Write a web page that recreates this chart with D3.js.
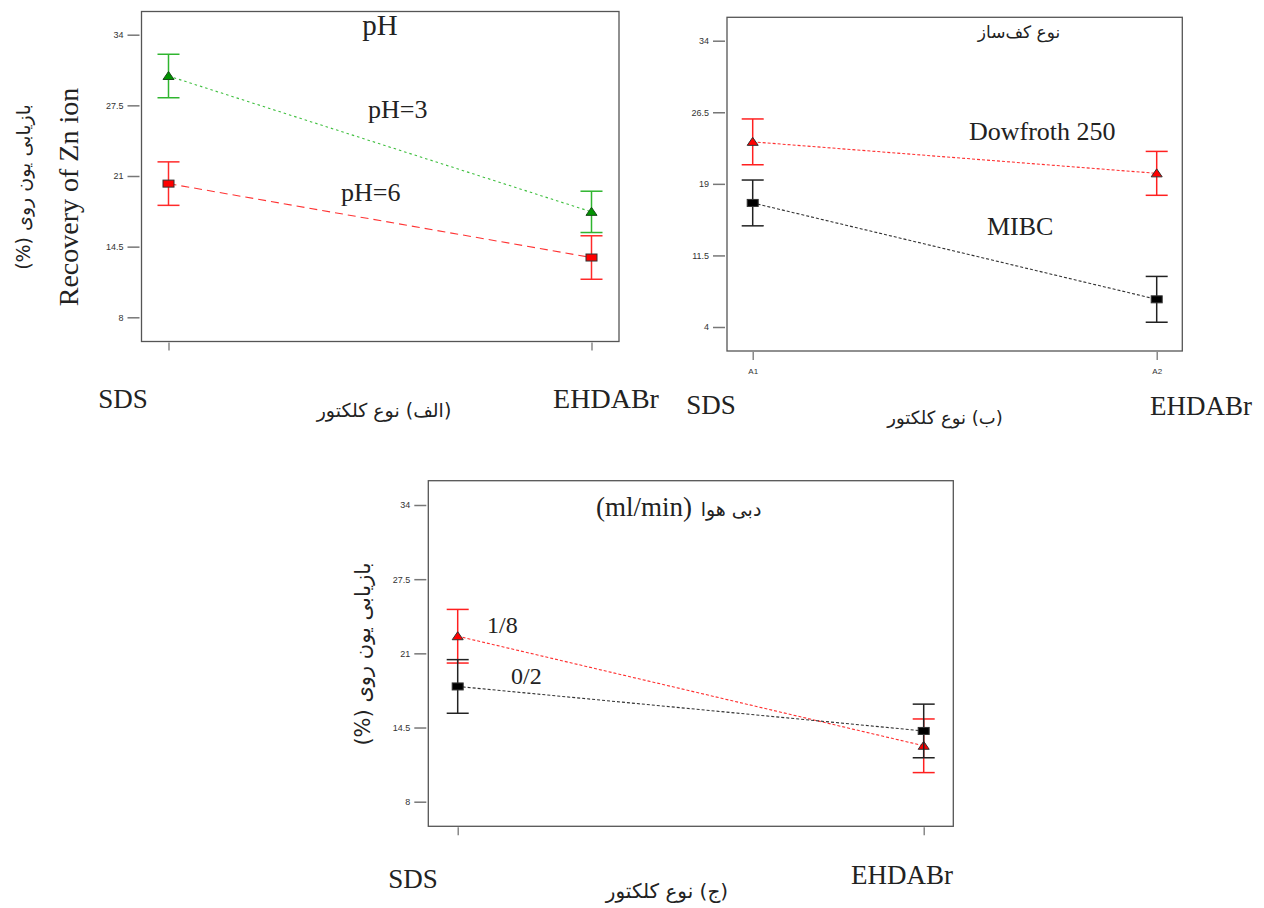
<!DOCTYPE html>
<html>
<head>
<meta charset="utf-8">
<script src="https://cdn.jsdelivr.net/npm/d3@7"></script>
<style>
  html, body { margin: 0; padding: 0; background: #fff; }
  svg { display: block; }
</style>
</head>
<body>
<svg id="chart" width="1264" height="908"></svg>
<script>
// Collector types on the x axis
const collectors = ["SDS", "EHDABr"];
const codedLevels = ["A1", "A2"];

// Y tick values
const ticksA = [8, 14.5, 21, 27.5, 34];
const ticksB = [4, 11.5, 19, 26.5, 34];

// (a) pH effect – mean recovery and half-width of the error bar
const pH3 = [30.2, 17.7];
const pH3Err = [2.0, 1.9];
const pH6 = [20.3, 13.5];
const pH6Err = [2.0, 2.0];

// (b) frother type
const dowfroth = [23.4, 20.1];
const dowfrothErr = [2.4, 2.3];
const mibc = [17.0, 6.9];
const mibcErr = [2.4, 2.4];

// (c) air flow rate
const air18 = [22.5, 12.9];
const air18Err = [2.35, 2.35];
const air02 = [18.1, 14.2];
const air02Err = [2.35, 2.35];

const svg = d3.select("#chart");
const SERIF = "'Liberation Serif', 'Times New Roman', serif";
const FA = "'DejaVu Sans', sans-serif";
const TICKF = "'Liberation Sans', Arial, sans-serif";

function panel(opt) {
  const g = svg.append("g");
  const x = d3.scalePoint().domain(collectors).range(opt.xRange);
  const y = d3.scaleLinear().domain([opt.ticks[0], opt.ticks[opt.ticks.length - 1]]).range(opt.yRange);

  // frame
  g.append("rect")
    .attr("x", opt.frame[0]).attr("y", opt.frame[1])
    .attr("width", opt.frame[2] - opt.frame[0]).attr("height", opt.frame[3] - opt.frame[1])
    .attr("fill", "none").attr("stroke", "#555").attr("stroke-width", 1.3);

  // y axis
  const yAxis = d3.axisLeft(y).tickValues(opt.ticks).tickSize(12).tickPadding(4)
    .tickFormat(d => String(d));
  const ya = g.append("g").attr("transform", `translate(${opt.frame[0] - 2},0)`).call(yAxis);
  ya.select(".domain").remove();
  ya.selectAll(".tick line").attr("stroke", "#777").attr("stroke-width", 1.5);
  ya.selectAll(".tick text").attr("font-family", TICKF).attr("font-size", 9).attr("fill", "#333");

  // x axis ticks below the frame
  const xAxis = d3.axisBottom(x).tickSize(8).tickPadding(8)
    .tickFormat((d, i) => opt.showCoded ? codedLevels[i] : "");
  const xa = g.append("g").attr("transform", `translate(0,${opt.frame[3] + 1})`).call(xAxis);
  xa.select(".domain").remove();
  xa.selectAll(".tick line").attr("stroke", "#777").attr("stroke-width", 1.3);
  xa.selectAll(".tick text").attr("font-family", TICKF).attr("font-size", 8).attr("fill", "#333");

  // series
  opt.series.forEach(s => {
    const pts = collectors.map((c, i) => ({ c, v: s.values[i], e: s.err[i] }));
    // connecting line
    g.append("path")
      .datum(pts)
      .attr("d", d3.line().x(d => x(d.c)).y(d => y(d.v)))
      .attr("fill", "none")
      .attr("stroke", s.line)
      .attr("stroke-width", 1.1)
      .attr("stroke-dasharray", s.dash);
    // error bars
    const eb = g.append("g").selectAll("g").data(pts).join("g");
    eb.append("line")
      .attr("x1", d => x(d.c)).attr("x2", d => x(d.c))
      .attr("y1", d => y(d.v + d.e)).attr("y2", d => y(d.v - d.e))
      .attr("stroke", s.bar).attr("stroke-width", 1.5);
    [1, -1].forEach(sg => {
      eb.append("line")
        .attr("x1", d => x(d.c) - 11).attr("x2", d => x(d.c) + 11)
        .attr("y1", d => y(d.v + sg * d.e)).attr("y2", d => y(d.v + sg * d.e))
        .attr("stroke", s.bar).attr("stroke-width", 1.5);
    });
    // markers
    if (s.marker === "triangle") {
      eb.append("path")
        .attr("d", d => {
          const cx = x(d.c), cy = y(d.v);
          return `M${cx - 5.5},${cy + 3.5}L${cx + 5.5},${cy + 3.5}L${cx},${cy - 4.5}Z`;
        })
        .attr("fill", s.fill).attr("stroke", s.stroke).attr("stroke-width", 1);
    } else {
      eb.append("rect")
        .attr("x", d => x(d.c) - 5.5).attr("y", d => y(d.v) - 3.5)
        .attr("width", 11).attr("height", 7)
        .attr("fill", s.fill).attr("stroke", s.stroke).attr("stroke-width", 1);
    }
  });
  return { g, x, y };
}

function label(txt, x, y, opts) {
  const t = svg.append("text")
    .attr("x", x).attr("y", y)
    .attr("font-family", opts.font).attr("font-size", opts.size).attr("fill", "#222")
    .attr("text-anchor", opts.anchor || "start")
    .text(txt);
  if (opts.rtl) t.attr("direction", "rtl");
  if (opts.rotate) t.attr("x", null).attr("y", null)
    .attr("transform", `translate(${x},${y}) rotate(-90)`);
  return t;
}

// ---------- (a) pH ----------
panel({
  frame: [141.5, 11.5, 619, 341.5],
  xRange: [168.5, 591.5],
  yRange: [317.3, 34.7],
  ticks: ticksA,
  series: [
    { values: pH3, err: pH3Err, line: "#3fbf3f", bar: "#2fb52f", dash: "2.5,3", marker: "triangle", fill: "#009400", stroke: "#1a4a1a" },
    { values: pH6, err: pH6Err, line: "#ff3333", bar: "#ff2a2a", dash: "8,5", marker: "square", fill: "#ff0000", stroke: "#333" }
  ]
});
label("pH", 380, 35, { font: SERIF, size: 29, anchor: "middle" });
label("pH=3", 368, 118, { font: SERIF, size: 26 });
label("pH=6", 341, 201, { font: SERIF, size: 26 });
label("Recovery of Zn ion", 78, 197, { font: SERIF, size: 28, anchor: "middle", rotate: true });
label("بازیابی یون روی (%)", 30, 187, { font: FA, size: 19, anchor: "middle", rtl: true, rotate: true });
label("SDS", 123, 408, { font: SERIF, size: 27, anchor: "middle" });
label("EHDABr", 606, 408, { font: SERIF, size: 28, anchor: "middle" });
label("(الف) نوع کلکتور", 384, 417, { font: FA, size: 19, anchor: "middle", rtl: true });

// ---------- (b) frother type ----------
panel({
  frame: [727, 17.3, 1182.3, 351],
  xRange: [752.7, 1156.7],
  yRange: [327, 40.7],
  ticks: ticksB,
  showCoded: true,
  series: [
    { values: dowfroth, err: dowfrothErr, line: "#ff3030", bar: "#ff2020", dash: "3,2", marker: "triangle", fill: "#ff0000", stroke: "#333" },
    { values: mibc, err: mibcErr, line: "#333", bar: "#222", dash: "3,2", marker: "square", fill: "#000", stroke: "#333" }
  ]
});
label("نوع کف‌ساز", 1019, 38, { font: FA, size: 17, anchor: "middle", rtl: true });
label("Dowfroth 250", 969, 140, { font: SERIF, size: 26 });
label("MIBC", 987, 235, { font: SERIF, size: 26 });
label("SDS", 711, 414, { font: SERIF, size: 27, anchor: "middle" });
label("EHDABr", 1201, 415, { font: SERIF, size: 27, anchor: "middle" });
label("(ب) نوع کلکتور", 945, 424, { font: FA, size: 18, anchor: "middle", rtl: true });

// ---------- (c) air flow rate ----------
panel({
  frame: [428.3, 480.7, 953.3, 826.3],
  xRange: [457.7, 923.7],
  yRange: [801.7, 505],
  ticks: ticksA,
  series: [
    { values: air18, err: air18Err, line: "#ff3030", bar: "#ff2020", dash: "3,2", marker: "triangle", fill: "#ff0000", stroke: "#333" },
    { values: air02, err: air02Err, line: "#333", bar: "#222", dash: "3,2", marker: "square", fill: "#000", stroke: "#333" }
  ]
});
label("(ml/min)", 692, 516, { font: SERIF, size: 27, anchor: "end" });
label("دبی هوا", 731, 516, { font: FA, size: 19, anchor: "middle", rtl: true });
label("1/8", 487, 633, { font: SERIF, size: 24 });
label("0/2", 511, 684, { font: SERIF, size: 24 });
label("بازیابی یون روی (%)", 370, 654, { font: FA, size: 21, anchor: "middle", rtl: true, rotate: true });
label("SDS", 413, 888, { font: SERIF, size: 27, anchor: "middle" });
label("EHDABr", 902, 884, { font: SERIF, size: 27, anchor: "middle" });
label("(ج) نوع کلکتور", 667, 898, { font: FA, size: 20, anchor: "middle", rtl: true });
</script>
</body>
</html>
